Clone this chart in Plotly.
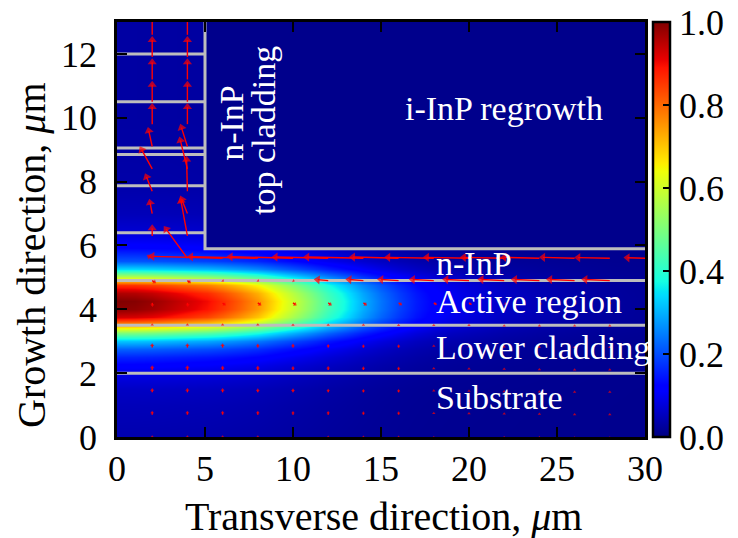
import numpy as np
import plotly.graph_objects as go

# ---------------- data ----------------
# Vertical profile of the mode intensity at x = 0 (growth direction, um)
Y_GRID = [0.0, 0.5, 1.0, 1.5, 2.0, 2.25, 2.5, 2.75, 3.0, 3.25, 3.5, 3.75, 4.0, 4.25,
          4.5, 4.75, 5.0, 5.25, 5.5, 5.75, 5.85, 5.95, 6.25, 6.5, 7.0, 8.0, 10.0, 13.0]
Y_PROFILE = [0.04, 0.045, 0.05, 0.06, 0.09, 0.12, 0.16, 0.22, 0.32, 0.50, 0.74, 0.93,
             0.99, 1.00, 0.96, 0.86, 0.58, 0.34, 0.21, 0.16, 0.14, 0.12, 0.09, 0.07,
             0.05, 0.035, 0.03, 0.03]
# Relative decay of the mode along the transverse direction (um)
X_GRID = [0, 1, 2, 3, 4, 4.9, 5.1, 6, 7, 8, 9, 10, 11, 12, 13, 14, 15, 16, 17, 18,
          19, 20, 22, 24, 26, 28, 30]
X_DECAY = [1.0, 0.995, 0.98, 0.955, 0.93, 0.905, 0.9, 0.86, 0.81, 0.75, 0.67, 0.59, 0.51,
           0.43, 0.36, 0.29, 0.23, 0.18, 0.14, 0.11, 0.09, 0.075, 0.05, 0.035, 0.025,
           0.015, 0.01]
BACKGROUND = 0.012
REGROWTH_LEVEL = 0.01
RIDGE_X = 5.0
RIDGE_BOTTOM = 5.9

# Layer boundaries (gray lines)
FULL_WIDTH_Y = [2.0, 3.5, 4.9]
RIDGE_LAYER_Y = [6.4, 7.87, 8.85, 9.05, 10.5, 12.0]
X_MAX = 30.0
Y_MAX = 13.0

# Field arrows: tail x, tail y, u, v
ARROW_X = []
ARROW_Y = []
ARROW_U = []
ARROW_V = []

COLS = [2, 4, 6, 8, 10, 12, 14, 16, 18, 20, 22, 24, 26, 28]
SMALL_ROWS_Y = [0.0, 0.7, 1.4, 2.1, 2.8, 3.5]
SMALL_ROWS_V = [
    [0.05, 0.05, 0.05, 0.05, 0.05, 0.04, 0.04, 0.04, 0.03, 0.03, 0.03, 0.03, 0.02, 0.02],
    [0.12, 0.12, 0.12, 0.12, 0.11, 0.11, 0.10, 0.10, 0.09, 0.08, 0.07, 0.06, 0.05, 0.05],
    [0.13, 0.13, 0.13, 0.12, 0.12, 0.11, 0.10, 0.10, 0.09, 0.08, 0.07, 0.06, 0.05, 0.05],
    [0.14, 0.14, 0.13, 0.13, 0.12, 0.12, 0.11, 0.10, 0.09, 0.08, 0.07, 0.06, 0.05, 0.05],
    [0.13, 0.13, 0.13, 0.12, 0.12, 0.11, 0.10, 0.10, 0.09, 0.08, 0.07, 0.06, 0.05, 0.05],
    [0.06, 0.06, 0.06, 0.06, 0.05, 0.05, 0.05, 0.04, 0.04, 0.04, 0.03, 0.03, 0.03, 0.03],
]
ROW42_U = [0.02, 0.03, 0.18, 0.2, 0.2, 0.2, 0.2, 0.2, 0.18, 0.16, 0.14, 0.12, 0.1, 0.08]
ROW42_V = [-0.12, -0.12, -0.08, -0.08, -0.08, -0.08, -0.08, -0.07, -0.06, -0.06, -0.05, -0.05, -0.04, -0.04]
ROW49_U = [0.22, 0.2, 0.08, 0.08, 0.1, -0.8, -1.0, -1.2, -1.4, -1.5, -1.5, -1.6, -1.6, -1.6]
ROW49_V = [-0.08, -0.08, -0.03, -0.03, -0.02, 0.04, 0.04, 0.04, 0.04, 0.04, 0.04, 0.04, 0.04, 0.04]
ROW56_X = [2, 4, 6, 8, 10, 12, 14, 16, 18, 20, 22, 24, 26, 28, 30]
ROW56_U = [-0.3, -1.33, -4.2, -4.0, -3.75, -3.2, -3.4, -2.8, -2.8, -2.6, -2.5, -2.2, -2.0, -2.0, -1.2]
ROW56_V = [0.1, 1.0, 0.06, 0.05, 0.05, 0.04, 0.04, 0.04, 0.03, 0.03, 0.03, 0.03, 0.03, 0.02, 0.02]
RIDGE_ROWS_Y = [6.3, 7.0, 7.7, 8.4, 9.1, 9.8, 10.5, 11.2, 11.9, 12.6]
RIDGE_X2_U = [0.0, -0.16, -0.4, -0.7, -0.24, 0.0, 0.0, 0.0, 0.0, 0.0]
RIDGE_X2_V = [0.35, 0.45, 0.55, 0.7, 0.6, 0.65, 0.65, 0.65, 0.65, 0.65]
RIDGE_X4_U = [-0.4, -0.4, -0.05, -0.45, -0.4, 0.0, 0.0, 0.0, 0.0, 0.0]
RIDGE_X4_V = [1.2, 0.55, 1.1, 1.0, 0.7, 0.65, 0.65, 0.65, 0.65, 0.65]

for yy, vrow in zip(SMALL_ROWS_Y, SMALL_ROWS_V):
    for xx, vv in zip(COLS, vrow):
        ARROW_X.append(xx); ARROW_Y.append(yy); ARROW_U.append(0.0); ARROW_V.append(vv)
for xx, uu, vv in zip(COLS, ROW42_U, ROW42_V):
    ARROW_X.append(xx); ARROW_Y.append(4.2); ARROW_U.append(uu); ARROW_V.append(vv)
for xx, uu, vv in zip(COLS, ROW49_U, ROW49_V):
    ARROW_X.append(xx); ARROW_Y.append(4.9); ARROW_U.append(uu); ARROW_V.append(vv)
for xx, uu, vv in zip(ROW56_X, ROW56_U, ROW56_V):
    ARROW_X.append(xx); ARROW_Y.append(5.6); ARROW_U.append(uu); ARROW_V.append(vv)
for yy, uu, vv in zip(RIDGE_ROWS_Y, RIDGE_X2_U, RIDGE_X2_V):
    ARROW_X.append(2); ARROW_Y.append(yy); ARROW_U.append(uu); ARROW_V.append(vv)
for yy, uu, vv in zip(RIDGE_ROWS_Y, RIDGE_X4_U, RIDGE_X4_V):
    ARROW_X.append(4); ARROW_Y.append(yy); ARROW_U.append(uu); ARROW_V.append(vv)

# Text labels
LEFT_LABELS = ["n-InP", "Active region", "Lower cladding", "Substrate"]
LEFT_LABELS_Y = [5.44, 4.26, 2.8, 1.25]
LEFT_LABELS_X = 18.07
X_TITLE = "Transverse direction, <i>μ</i>m"
Y_TITLE = "Growth direction, <i>μ</i>m"
COLORBAR_TICKS = [0.0, 0.2, 0.4, 0.6, 0.8, 1.0]
COLORBAR_TEXT = ["0.0", "0.2", "0.4", "0.6", "0.8", "1.0"]
X_TICKS = [0, 5, 10, 15, 20, 25, 30]
Y_TICKS = [0, 2, 4, 6, 8, 10, 12]

# ---------------- styling ----------------
W, H = 738, 538
ML, MR, MT, MB = 117, 93, 22, 101
PW, PH = W - ML - MR, H - MT - MB
PXX = PW / X_MAX
PXY = PH / Y_MAX
FONT = "Liberation Serif"


def jet_scale():
    br = [0, 0.11, 0.125, 0.34, 0.35, 0.375, 0.64, 0.65, 0.66, 0.89, 0.91, 1.0]
    out = []
    for p in br:
        r = np.interp(p, [0, 0.35, 0.66, 0.89, 1.0], [0, 0, 1, 1, 0.5])
        g = np.interp(p, [0, 0.125, 0.375, 0.64, 0.91, 1.0], [0, 0, 1, 1, 0, 0])
        b = np.interp(p, [0, 0.11, 0.34, 0.65, 1.0], [0.5, 1, 1, 0, 0])
        out.append([p, f"rgb({int(round(r*255))},{int(round(g*255))},{int(round(b*255))})"])
    return out


# heat map grid
Z = []
for yy, py in zip(Y_GRID, Y_PROFILE):
    row = []
    for xx, dx in zip(X_GRID, X_DECAY):
        if xx > RIDGE_X and yy > RIDGE_BOTTOM:
            row.append(REGROWTH_LEVEL)
        else:
            row.append(BACKGROUND + (py - BACKGROUND) * dx)
    Z.append(row)

fig = go.Figure()
fig.add_trace(go.Heatmap(
    x=X_GRID, y=Y_GRID, z=Z, zsmooth="best", zmin=0, zmax=1,
    colorscale=jet_scale(), hoverinfo="skip",
    colorbar=dict(
        x=653 / W, xanchor="left", xref="container",
        y=0.5, yanchor="middle", yref="paper",
        len=1.0, lenmode="fraction", thickness=17, ypad=0, xpad=0,
        outlinewidth=2.5, outlinecolor="black",
        ticks="inside", ticklen=8, tickwidth=1.5, tickcolor="black",
        tickvals=COLORBAR_TICKS, ticktext=COLORBAR_TEXT,
        tickfont=dict(family=FONT, size=36, color="black"),
    ),
))

# gray layer boundaries
gx, gy = [], []
for yy in FULL_WIDTH_Y:
    gx += [0, X_MAX, None]; gy += [yy, yy, None]
for yy in RIDGE_LAYER_Y:
    gx += [0, RIDGE_X, None]; gy += [yy, yy, None]
gx += [X_MAX, RIDGE_X, RIDGE_X, None]; gy += [RIDGE_BOTTOM, RIDGE_BOTTOM, Y_MAX, None]
fig.add_trace(go.Scatter(x=gx, y=gy, mode="lines", line=dict(color="#bdbdbd", width=3),
                         hoverinfo="skip", showlegend=False))

# arrows
sx, sy, hx, hy, hang, hsize = [], [], [], [], [], []
for x0, y0, u, v in zip(ARROW_X, ARROW_Y, ARROW_U, ARROW_V):
    dxp, dyp = u * PXX, v * PXY
    L = float(np.hypot(dxp, dyp))
    if L == 0:
        continue
    size = min(8.0, max(3.0, 0.9 * L))
    back = size * 0.45
    tipx, tipy = x0 + u, y0 + v
    cx = tipx - (dxp / L) * back / PXX
    cy = tipy - (dyp / L) * back / PXY
    if L > size:
        sx += [x0, cx, None]; sy += [y0, cy, None]
    hx.append(cx); hy.append(cy)
    hang.append(float(np.degrees(np.arctan2(dxp, dyp))))
    hsize.append(size)
fig.add_trace(go.Scatter(x=sx, y=sy, mode="lines", line=dict(color="red", width=1.4),
                         hoverinfo="skip", showlegend=False, cliponaxis=True))
fig.add_trace(go.Scatter(x=hx, y=hy, mode="markers",
                         marker=dict(symbol="triangle-up", size=hsize, angle=hang,
                                     color="red", line=dict(width=0)),
                         hoverinfo="skip", showlegend=False, cliponaxis=True))

annots = []
for txt, yy in zip(LEFT_LABELS, LEFT_LABELS_Y):
    annots.append(dict(x=LEFT_LABELS_X, y=yy, text=txt, xanchor="left", yanchor="middle",
                       showarrow=False, borderpad=0,
                       font=dict(family=FONT, size=34, color="white")))
annots.append(dict(x=21.96, y=10.28, text="i-InP regrowth", xanchor="center", yanchor="middle",
                   showarrow=False, borderpad=0, font=dict(family=FONT, size=34, color="white")))
annots.append(dict(x=6.53, y=9.84, text="n-InP", textangle=-90, xanchor="center",
                   yanchor="middle", showarrow=False, borderpad=0,
                   font=dict(family=FONT, size=34, color="white")))
annots.append(dict(x=8.35, y=9.62, text="top cladding", textangle=-90, xanchor="center",
                   yanchor="middle", showarrow=False, borderpad=0,
                   font=dict(family=FONT, size=34, color="white")))
# axis titles
annots.append(dict(xref="paper", yref="paper", x=(383 - ML) / PW, y=(MT + PH - 516) / PH,
                   text=X_TITLE, xanchor="center", yanchor="middle", showarrow=False,
                   borderpad=0, font=dict(family=FONT, size=40, color="black")))
annots.append(dict(xref="paper", yref="paper", x=(31 - ML) / PW, y=(MT + PH - 255) / PH,
                   text=Y_TITLE, textangle=-90, xanchor="center", yanchor="middle",
                   showarrow=False, borderpad=0,
                   font=dict(family=FONT, size=40, color="black")))

axis_common = dict(showgrid=False, zeroline=False, showline=True, linecolor="black",
                   linewidth=2.5, mirror="allticks", ticks="inside", ticklen=10,
                   tickwidth=1.5, tickcolor="black", automargin=False,
                   tickfont=dict(family=FONT, size=36, color="black"))
fig.update_layout(
    width=W, height=H, margin=dict(l=ML, r=MR, t=MT, b=MB, pad=0, autoexpand=False),
    paper_bgcolor="white", plot_bgcolor="white", showlegend=False,
    annotations=annots,
    xaxis=dict(range=[0, X_MAX], tickvals=X_TICKS, ticklabelstandoff=-2, **axis_common),
    yaxis=dict(range=[0, Y_MAX], tickvals=Y_TICKS, ticklabelstandoff=10, **axis_common),
)
fig.write_html("out.html")
